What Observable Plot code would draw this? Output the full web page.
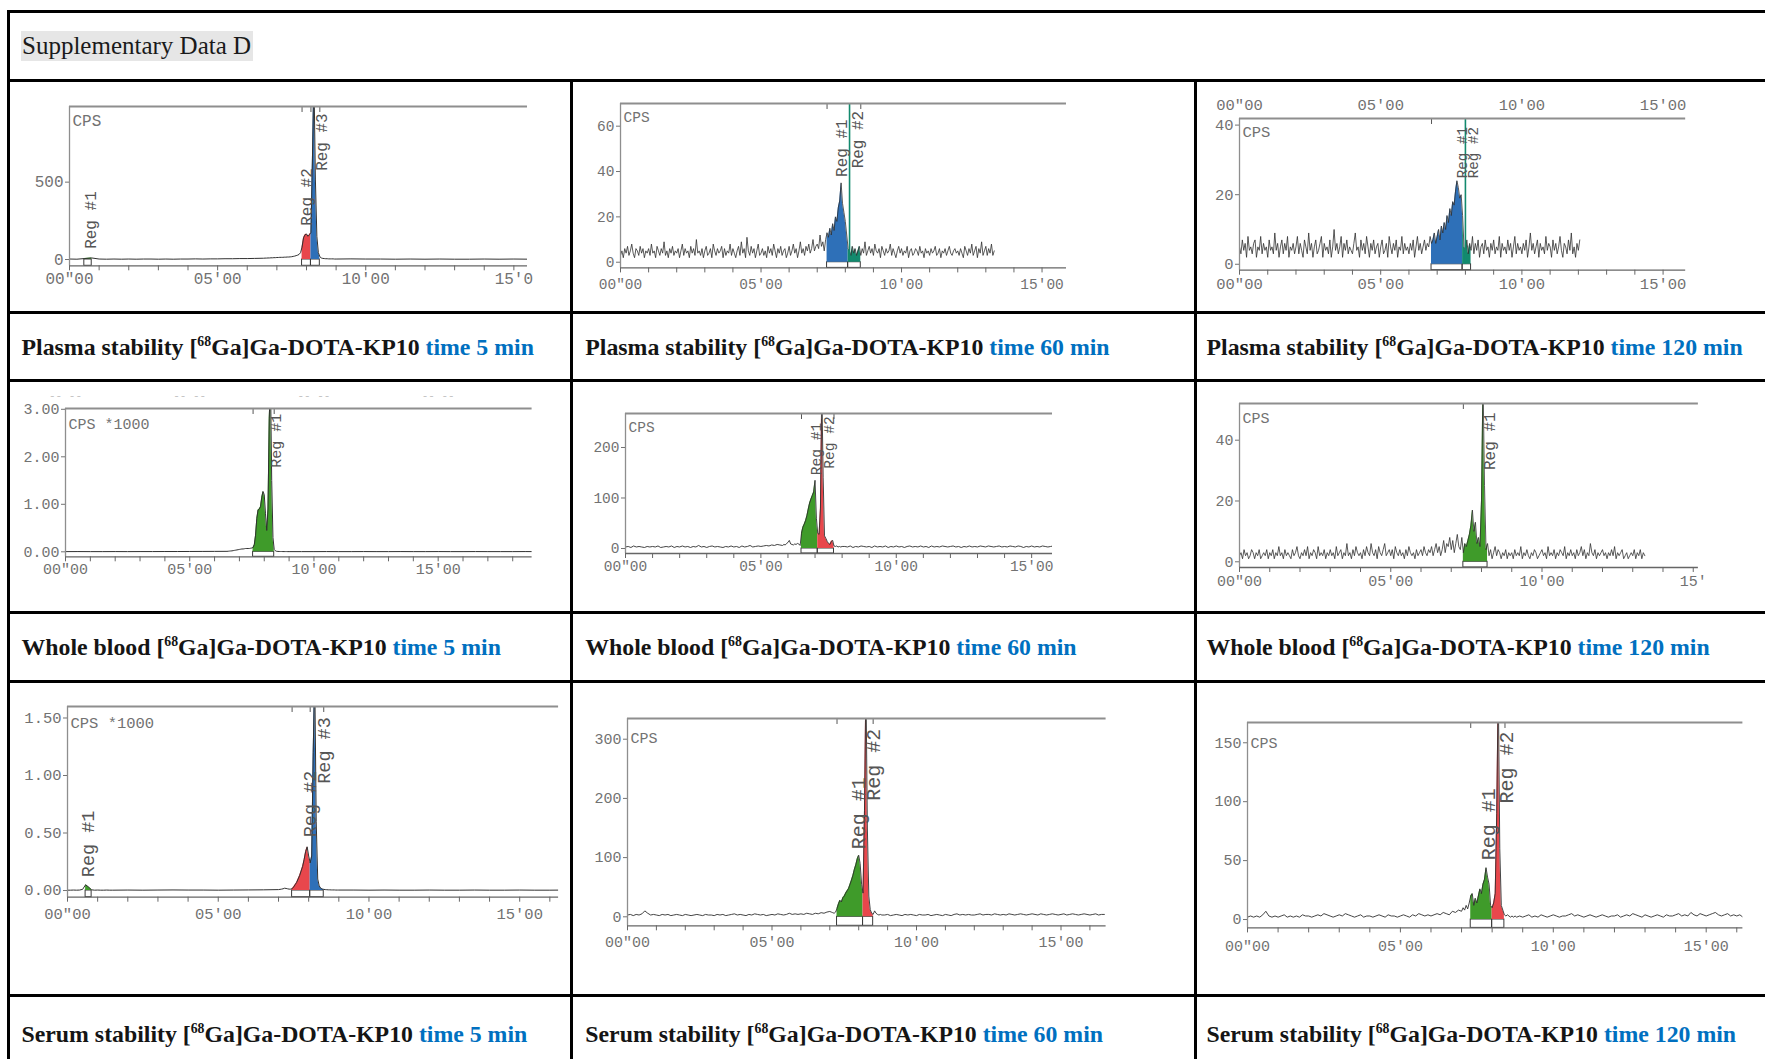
<!DOCTYPE html>
<html>
<head>
<meta charset="utf-8">
<script src="https://cdn.jsdelivr.net/npm/d3@7"></script>
<script src="https://cdn.jsdelivr.net/npm/@observablehq/plot@0.6"></script>
<style>
  html, body { margin: 0; padding: 0; background: #fff; }
  body { width: 1765px; height: 1059px; overflow: hidden; position: relative; font-family: "Liberation Serif", "DejaVu Serif", serif; }
  .rule { position: absolute; background: #000; }
  .cap { position: absolute; font-weight: bold; font-size: 23.8px; line-height: 24px; color: #151515; white-space: nowrap; }
  .cap .tm { color: #0070c0; }
  .cap sup { font-size: 0.58em; vertical-align: 0.62em; line-height: 0; }
  .title { position: absolute; font-size: 25px; line-height: 25px; color: #1a1a1a; white-space: nowrap; background: #e6e6e6; padding: 2px 2px 3px 1px; }
  .panel { position: absolute; }
</style>
</head>
<body>
<script>
// ---------------- DATA ----------------
const matrices = ["Plasma stability", "Whole blood", "Serum stability"];
const timePoints = ["5", "60", "120"];
const tracerMass = "68";
const tracerName = "Ga]Ga-DOTA-KP10";
const titleText = "Supplementary Data D";
const xTickValues = [0, 5, 10, 15];
const xTickLabels = ['00"00', "05'00", "10'00", "15'00"];
const xTickLabelsCut4 = ['00"00', "05'00", "10'00", "15'0"];   // last label cut by the image edge
const xTickLabelsCut3 = ['00"00', "05'00", "10'00", "15'"];
const ghostLabels = ["-- --", "-- --", "-- --", "-- --"];

// Plasma 5 min (CPS)
const plasma5Pre = [3,2,6,10,3,2,3,2,3,2,3,3,2,3,2,3,3,4,3,4,4,5,5,6,6,7];
const plasma5Peak = [8,8,9,9,10,10,11,11,12,12,13,13,14,14,14,15,15,16,16,17,18,20,22,25,28,33,45,80,140,160,165,150,160,175,650,1200,520,150,45,18,10,7,6,5,5,4,4,4,4,3,3];
const plasma5Post = [4,3,3,2,3,2,3,2,2,3,2,3,2];

// Plasma 60 min (CPS), every 3 s
const plasma60 = [
  3,5,2,6,4,7,3,5,8,4,2,6,5,3,7,4,6,2,5,4,
  6,3,8,4,5,2,7,5,3,6,4,9,3,5,2,6,4,7,3,5,
  4,6,2,5,8,3,6,4,5,2,7,4,6,3,10,4,5,3,6,2,
  5,7,3,4,6,2,8,5,3,6,4,5,7,2,6,3,5,4,8,3,
  6,4,2,5,7,3,9,4,6,2,11,5,3,7,4,6,2,5,8,3,
  4,6,3,5,2,7,4,6,3,8,5,2,6,4,7,3,5,6,2,4,
  7,3,5,8,4,6,2,5,9,4,6,3,7,5,8,4,6,10,5,7,
  8,6,12,7,9,5,10,13,11,15,12,17,14,20,18,24,27,35,26,22,
  18,12,6,5,3,7,4,6,3,5,7,3,6,4,9,3,5,7,4,6,
  3,8,5,4,6,2,7,5,3,6,4,5,8,3,6,4,2,5,7,4,
  6,3,5,4,7,2,5,6,3,4,6,5,3,7,4,5,2,6,4,5,
  3,6,4,5,7,3,4,6,2,5,4,6,3,5,7,4,3,5,6,4,
  5,3,6,4,2,7,5,3,6,4,8,3,5,7,2,6,4,9,3,5,
  7,3,6,4,8,3,5
];

// Plasma 120 min (CPS), every 3 s
const plasma120 = [
  5,3,7,4,6,2,8,4,5,3,6,7,2,5,4,8,3,6,4,5,
  2,7,4,5,3,9,4,6,2,5,7,3,6,4,8,2,5,4,6,3,
  5,8,3,6,4,2,7,5,3,9,4,6,2,5,7,3,4,6,8,2,
  6,4,5,3,7,2,5,10,4,6,3,5,8,2,6,4,7,3,5,4,
  3,6,9,4,5,2,7,4,6,3,8,5,2,6,4,7,3,5,6,2,
  5,7,3,4,6,2,8,5,3,6,4,7,2,5,4,8,3,6,4,5,
  3,6,4,7,2,5,8,4,6,3,5,7,4,6,5,8,6,7,9,6,
  8,10,7,11,9,12,10,14,12,16,14,18,17,21,24,22,19,20,14,5,
  4,7,3,6,4,8,3,6,4,7,2,5,6,3,7,4,5,2,6,4,
  7,3,5,4,8,2,6,4,5,3,7,4,6,2,5,8,3,6,4,5,
  3,6,4,7,2,5,9,4,6,3,5,7,2,6,4,5,3,8,4,6,
  5,2,7,4,6,3,5,8,4,2,6,5,3,7,4,9,3,5,2,6,
  4,7
];

// Whole blood 5 min (CPS *1000)
const blood5Pre = [0.004,0.005,0.004,0.004,0.005,0.004,0.005,0.005,0.006,0.006,0.007,0.008,0.009];
const blood5Peak = [
  0.01,0.012,0.015,0.018,0.02,0.025,0.03,0.035,0.04,0.045,
  0.05,0.055,0.06,0.06,0.065,0.07,0.07,0.07,0.07,0.075,
  0.08,0.09,0.15,0.35,0.7,0.88,0.9,0.95,1.15,1.27,
  1.2,0.8,0.45,0.9,2.8,3.6,1.5,0.3,0.05,0.02,
  0.01,0.008,0.007,0.006,0.006,0.005,0.005,0.005,0.005,0.004,
  0.004
];
const blood5Post = [0.004,0.004,0.005,0.004,0.004,0.005,0.004,0.004,0.005,0.004,0.004,0.005,0.004,0.004,0.005,0.004,0.004,0.004,0.005,0.004];

// Whole blood 60 min (CPS)
const blood60Pre = [3,4,2,5,3,4,3,2,4,3, 4,3,5,2,3,4,3,5,2,4, 3,5,3,4,2,4,3,6,3,4, 2,4,5,3,4,3,2,4,3,5, 3,4,2,5,3,4,6,3,4,5, 4,5,6,5,7,6,8,7];
const blood60Peak = [6,8,7,10,12,16,9,8,7,9, 8,10,9,6,30,42,48,55,65,78, 90,98,105,112,135,60,30,28,80,320, 140,25,20,14,10,8,14,16,5,4, 5,3,4,3,4];
const blood60Post = [4,3,5,2,4,3,5,4,3, 4,2,5,3,4,3,5,2,4,3, 5,3,4,2,4,5,3,4,3,5, 3,4,2,5,3,4,3,5,4,3, 4,5,3,4,2,4,3,5,3,4, 3,5,4,3,5,4,3,4,5,3, 4,3,5,4,3,5,4,2,4,3, 5,3,4,3,5,4,3,4,5,3,4];

// Whole blood 120 min (CPS), every 3 s
const blood120 = [
  2,3,1,4,2,3,1,2,4,3,1,3,2,4,1,2,3,2,4,1,
  3,2,4,1,3,2,5,2,3,1,4,2,3,2,1,4,2,3,5,2,
  1,3,2,4,2,5,1,3,2,4,3,1,5,2,3,2,4,1,3,2,
  4,2,3,1,5,2,3,4,1,3,2,6,2,3,1,4,2,5,3,2,
  3,1,4,2,5,3,2,6,3,2,4,1,5,3,2,4,6,2,3,4,
  2,4,1,5,3,2,4,2,3,1,4,2,5,3,2,3,1,4,2,3,
  4,2,5,3,2,4,3,5,2,4,6,3,5,2,4,7,3,6,5,8,
  4,7,3,6,9,5,4,8,3,6,5,7,9,12,17,10,13,6,8,5,
  20,60,25,4,6,2,4,1,3,5,2,4,3,1,3,2,4,1,3,2,
  3,1,4,2,3,2,5,1,3,2,4,2,1,3,2,4,3,1,2,3,
  4,2,3,1,5,2,3,2,4,1,3,2,4,3,2,5,1,3,2,4,
  2,3,1,4,2,3,5,2,4,1,3,2,6,3,2,4,1,3,2,3,
  4,2,3,1,3,2,4,2,5,1,3,2,3,4,1,2,3,1,2,3,
  2,4,1,3,2,4,1,3,2
];

// Serum 5 min (CPS *1000)
const serum5Pre = [0.003,0.003,0.004,0.003,0.004,0.01,0.05,0.03,0.006,0.003,0.004,0.003,0.003,0.004,0.003];
const serum5Mid = [0.003,0.004,0.003,0.004,0.005,0.004,0.004,0.003,0.004,0.005,0.006];
const serum5Peak = [
  0.008,0.01,0.012,0.015,0.02,0.018,0.015,0.012,0.012,0.015,
  0.03,0.05,0.07,0.1,0.13,0.17,0.21,0.27,0.34,0.38,
  0.3,0.24,0.3,1.2,1.9,0.6,0.1,0.04,0.02,0.012,
  0.01,0.008,0.007,0.006,0.006,0.005,0.005,0.005,0.004,0.004,
  0.004
];
const serum5Post = [0.004,0.003,0.004,0.003,0.003,0.004,0.003,0.003,0.004,0.003,0.003,0.004,0.003,0.003,0.004];

// Serum 60 min (CPS)
const serum60Pre = [3,4,2,4,3,5,10,6,3,4, 3,2,4,3,4,2,3,4,3,2, 4,3,2,3,4,3,2,4,3,3, 2,4,3,4,2,3,4,5,3,4, 3,2,4,3,5,4,3,4,2,3, 4,3,5,4,3,4,6,4,5,4, 5,4,6,5,4,6,5,7,6,8];
const serum60Peak = [9,8,7,6,8, 14,22,28,25,32, 35,40,44,48,55, 62,70,80,88,98, 104,90,55,40,180, 400,150,35,12,6, 4,10,6,4,3, 4,3];
const serum60Post = [3,4,2,3,4,3,2,4,3,4,3, 2,4,3,3,4,2,3,4,3,2, 4,3,2,4,5,3,4,3,4,3, 3,4,5,3,4,4,3,5,4,3, 4,3,5,4,3,4,5,4,3,4, 5,4,3,5,4,3,4,5,4,3, 4,5,3,4,5,4,3,4,5,4, 3,4,5,3,4,4];

// Serum 120 min (CPS)
const serum120Pre = [2,3,2,3,2,4,7,3,2,3, 2,3,4,2,3,2,3,2,4,3, 3,2,3,4,3,5,4,3,2,3, 4,3,5,4,3,2,3,4,2,3, 3,2,3,4,3,2,4,3,3,2, 3,4,3,2,4,3,5,4,3,4, 3,4,5,4,6,5,4,7,6,8];
const serum120Peak = [7,10,8,12,9, 14,20,22,12,18, 14,20,26,22,30, 34,44,36,30,12, 10,14,22,90,200, 60,12,8,4,3, 4,3,2,3,2, 3,2];
const serum120Post = [3,2,3,4,2,3,2,4,3,2,3, 4,3,2,3,3,4,5,3,4,3, 2,3,4,3,2,3,4,3,2,3, 3,4,2,3,4,3,5,4,3,2, 4,3,2,3,4,3,2,4,3,3, 4,5,3,4,3,6,4,3,5,4, 3,4,5,6,4,3,4,5,3,4, 3,4,2];

// ---------------- STYLE ----------------
const RED = "#e8474c", BLUE = "#2e70b8", TEAL = "#138a6e", GREEN = "#3f9b2a";
const MONO = "'Liberation Mono','DejaVu Sans Mono',monospace";
const FRAME = "#8e8e8e", AXIS = "#666666", LABEL = "#727272", TRACE = "#303030", REGTXT = "#555555";
const fix2 = d => d.toFixed(2);
const plain = d => String(d);

// ---------------- PANELS ----------------
const panels = [
  { left:69.3, right:527.3, top:105.7, bottom:265, xmax:15.46, ymin:-40.7, ymax:989, xLabels:xTickLabelsCut4,
    yTicks:[0,500], yFmt:plain, cps:"CPS", fs:16, rfs:16, xPad:6.5, cpsDy:8, lw:1,
    segs:[[0,0.25,plasma5Pre],[6.5,0.05,plasma5Peak],[9.5,0.5,plasma5Post]],
    regions:[{label:"Reg #1",start:0.5,end:0.75,color:GREEN,lx:0.72,ly:69},
             {label:"Reg #2",start:7.85,end:8.15,color:RED,lx:8.0,ly:218},
             {label:"Reg #3",start:8.15,end:8.45,color:BLUE,lx:8.52,ly:573}],
    tops:[7.85,8.15,8.45] },
  { left:620, right:1066, top:103.3, bottom:267.7, xmax:15.87, ymin:-2.5, ymax:70, xLabels:xTickLabels,
    yTicks:[0,20,40,60], yFmt:plain, cps:"CPS", fs:14.5, rfs:16, xPad:10.5, cpsDy:8.5, lw:0.8,
    segs:[[0,0.05,plasma60]],
    regions:[{label:"Reg #1",start:7.35,end:8.1,color:BLUE,lx:7.88,ly:37.6},
             {label:"Reg #2",start:8.1,end:8.55,color:TEAL,lx:8.46,ly:41.4,marker:8.15}],
    tops:[7.35,8.55] },
  { left:1238.8, right:1685, top:118.3, bottom:270, xmax:15.8, ymin:-1.7, ymax:41.9, xLabels:xTickLabels,
    yTicks:[0,20,40], yFmt:plain, cps:"CPS", fs:15.5, rfs:14.3, xPad:7.3, cpsDy:7.2, lw:0.8, topAxis:true,
    segs:[[0,0.05,plasma120]],
    regions:[{label:"Reg #1",start:6.8,end:7.9,color:BLUE,lx:7.91,ly:24.7},
             {label:"Reg #2",start:7.9,end:8.2,color:TEAL,lx:8.27,ly:24.7,marker:8.0}],
    tops:[6.8] },
  { left:65.4, right:532, top:407.7, bottom:556, xmax:18.78, ymin:-0.105, ymax:3.017, xLabels:xTickLabels,
    yTicks:[0,1,2,3], yFmt:fix2, cps:"CPS *1000", fs:15, rfs:15, xPad:6.7, cpsDy:9.5, lw:1, ghost:true,
    segs:[[0,0.5,blood5Pre],[6.5,0.05,blood5Peak],[9.5,0.5,blood5Post]],
    regions:[{label:"Reg #1",start:7.55,end:8.4,color:GREEN,lx:8.49,ly:1.77}],
    tops:[7.55,8.4] },
  { left:625.4, right:1052.4, top:412.7, bottom:552.7, xmax:15.77, ymin:-9.9, ymax:267.3, xLabels:xTickLabels,
    yTicks:[0,100,200], yFmt:plain, cps:"CPS", fs:14.5, rfs:14.6, xPad:7.5, cpsDy:8, lw:0.9,
    segs:[[0,0.1,blood60Pre],[5.8,0.05,blood60Peak],[8.1,0.1,blood60Post]],
    regions:[{label:"Reg #1",start:6.5,end:7.1,color:GREEN,lx:7.03,ly:145},
             {label:"Reg #2",start:7.1,end:7.7,color:RED,lx:7.51,ly:158}],
    tops:[6.5,7.25,7.7] },
  { left:1239.3, right:1698.2, top:402.7, bottom:566.7, xmax:15.17, ymin:-1.875, ymax:52.07, xLabels:xTickLabelsCut3,
    yTicks:[0,20,40], yFmt:plain, cps:"CPS", fs:15, rfs:16, xPad:8.2, cpsDy:9, lw:0.8,
    segs:[[0,0.05,blood120]],
    regions:[{label:"Reg #1",start:7.4,end:8.2,color:GREEN,lx:8.29,ly:30.2}],
    tops:[7.4] },
  { left:67.1, right:558.2, top:706, bottom:896.7, xmax:16.29, ymin:-0.058, ymax:1.6, xLabels:xTickLabels,
    yTicks:[0,0.5,1,1.5], yFmt:fix2, cps:"CPS *1000", fs:15.5, rfs:18.5, xPad:11, cpsDy:10.8, lw:1,
    segs:[[0,0.1,serum5Pre],[1.5,0.5,serum5Mid],[7.0,0.05,serum5Peak],[9.5,0.5,serum5Post]],
    regions:[{label:"Reg #1",start:0.6,end:0.8,color:GREEN,lx:0.69,ly:0.116},
             {label:"Reg #2",start:7.45,end:8.05,color:RED,lx:8.04,ly:0.463},
             {label:"Reg #3",start:8.05,end:8.5,color:BLUE,lx:8.51,ly:0.928}],
    tops:[7.45,8.05,8.5] },
  { left:627.4, right:1106, top:717.7, bottom:925, xmax:16.56, ymin:-15.2, ymax:335, xLabels:xTickLabels,
    yTicks:[0,100,200,300], yFmt:plain, cps:"CPS", fs:15, rfs:20, xPad:10.5, cpsDy:13.8, lw:0.9,
    segs:[[0,0.1,serum60Pre],[7.0,0.05,serum60Peak],[8.9,0.1,serum60Post]],
    regions:[{label:"Reg #1",start:7.25,end:8.15,color:GREEN,lx:8.0,ly:114},
             {label:"Reg #2",start:8.15,end:8.5,color:RED,lx:8.52,ly:196}],
    tops:[7.25,8.5] },
  { left:1246.6, right:1742, top:722.3, bottom:927.7, xmax:16.2, ymin:-7.1, ymax:167.2, xLabels:xTickLabels,
    yTicks:[0,50,100,150], yFmt:plain, cps:"CPS", fs:15, rfs:20, xPad:12.5, cpsDy:14.5, lw:0.9,
    segs:[[0,0.1,serum120Pre],[7.0,0.05,serum120Peak],[8.9,0.1,serum120Post]],
    regions:[{label:"Reg #1",start:7.3,end:8.0,color:GREEN,lx:7.9,ly:50.3},
             {label:"Reg #2",start:8.0,end:8.4,color:RED,lx:8.47,ly:98.5}],
    tops:[7.3,8.42] }
];

function drawPanel(p) {
  const W = p.right - p.left, H = p.bottom - p.top;
  const mL = 60, mT = 32, mB = 36, mR = 40;
  const trace = p.segs.flatMap(([t0, dt, vals]) => vals.map((v, i) => ({ t: Math.round((t0 + i * dt) * 1000) / 1000, v })));
  const minutes = d3.range(0, Math.floor(p.xmax + 1e-9) + 1);
  const fmtX = d => p.xLabels[xTickValues.indexOf(d)];
  const marks = [];
  marks.push(Plot.rect(p.regions, { x1: "start", x2: "end", y1: p.ymin, y2: 0, stroke: "#3a3a3a", strokeWidth: 1, fill: "none" }));
  for (const r of p.regions) {
    const part = trace.filter(d => d.t >= r.start - 1e-6 && d.t <= r.end + 1e-6);
    marks.push(Plot.areaY(part, { x: "t", y1: 0, y2: "v", fill: r.color, clip: true }));
  }
  marks.push(Plot.line(trace, { x: "t", y: "v", stroke: TRACE, strokeWidth: p.lw, clip: true }));
  for (const r of p.regions) {
    if (r.marker != null) marks.push(Plot.ruleX([r.marker], { y1: 0, y2: p.ymax, stroke: r.color, strokeWidth: 1.6 }));
  }
  marks.push(Plot.ruleX(p.tops, { stroke: "#555", strokeWidth: 1, insetBottom: H - 6 }));
  marks.push(Plot.ruleY([p.ymax], { stroke: FRAME, strokeWidth: 1.8 }));
  marks.push(Plot.ruleX([0], { stroke: FRAME, strokeWidth: 1.3 }));
  marks.push(Plot.ruleY([p.ymin], { stroke: AXIS, strokeWidth: 1.3 }));
  marks.push(Plot.axisY({ ticks: p.yTicks, tickFormat: p.yFmt, tickSize: 4, tickPadding: 2, fontSize: p.fs, fontFamily: MONO, color: LABEL, label: null }));
  marks.push(Plot.axisX({ ticks: minutes, tickFormat: () => "", tickSize: 5, color: AXIS, label: null }));
  marks.push(Plot.axisX({ ticks: xTickValues, tickFormat: fmtX, tickSize: 0, tickPadding: p.xPad, fontSize: p.fs, fontFamily: MONO, color: LABEL, label: null }));
  if (p.topAxis) {
    marks.push(Plot.axisX({ anchor: "top", ticks: xTickValues, tickFormat: d => xTickLabels[xTickValues.indexOf(d)], tickSize: 0, tickPadding: 8.5, fontSize: p.fs, fontFamily: MONO, color: LABEL, label: null }));
  }
  if (p.ghost) {
    marks.push(Plot.text(xTickValues, { x: d => d, text: (d, i) => ghostLabels[i], frameAnchor: "top", dy: -9, lineAnchor: "bottom", fontSize: 11, fontFamily: MONO, fill: "#c2c2c2" }));
  }
  marks.push(Plot.text([p.cps], { text: d => d, frameAnchor: "top-left", dx: 3, dy: p.cpsDy, textAnchor: "start", lineAnchor: "top", fontSize: p.fs, fontFamily: MONO, fill: LABEL }));
  marks.push(Plot.text(p.regions, { x: "lx", y: "ly", text: "label", rotate: -90, textAnchor: "start", fontSize: p.rfs, fontFamily: MONO, fill: REGTXT }));

  const svg = Plot.plot({
    width: W + mL + mR, height: H + mT + mB,
    marginLeft: mL, marginRight: mR, marginTop: mT, marginBottom: mB,
    x: { domain: [0, p.xmax] },
    y: { domain: [p.ymin, p.ymax] },
    style: { background: "transparent", overflow: "visible", maxWidth: "none" },
    marks
  });
  const div = document.createElement("div");
  div.className = "panel";
  div.style.left = (p.left - mL) + "px";
  div.style.top = (p.top - mT) + "px";
  div.style.width = (W + mL + mR) + "px";
  div.appendChild(svg);
  document.body.appendChild(div);
}

// ---------------- TABLE ----------------
function rule(x, y, w, h) {
  const d = document.createElement("div");
  d.className = "rule";
  d.style.left = x + "px"; d.style.top = y + "px";
  d.style.width = w + "px"; d.style.height = h + "px";
  document.body.appendChild(d);
}
const hLines = [11.5, 80, 312, 380, 612.5, 681, 995];
const vLines = [{ x: 8.5, y0: 10 }, { x: 571, y0: 80 }, { x: 1195, y0: 80 }];
for (const y of hLines) rule(7, y - 1.5, 1765 - 7, 3);
for (const v of vLines) rule(v.x - 1.5, v.y0, 3, 1059 - v.y0);

const title = document.createElement("div");
title.className = "title";
title.textContent = titleText;
title.style.left = "21px";
title.style.top = "31px";
document.body.appendChild(title);

const capBaselines = [355, 655.5, 1042];
const colX = [21.5, 585.3, 1206.5];
matrices.forEach((m, r) => {
  timePoints.forEach((t, c) => {
    const d = document.createElement("div");
    d.className = "cap";
    d.innerHTML = `${m} [<sup>${tracerMass}</sup>${tracerName} <span class="tm">time ${t} min</span>`;
    d.style.left = colX[c] + "px";
    d.style.top = (capBaselines[r] - 20.1) + "px";
    document.body.appendChild(d);
  });
});

panels.forEach(drawPanel);
</script>
</body>
</html>
